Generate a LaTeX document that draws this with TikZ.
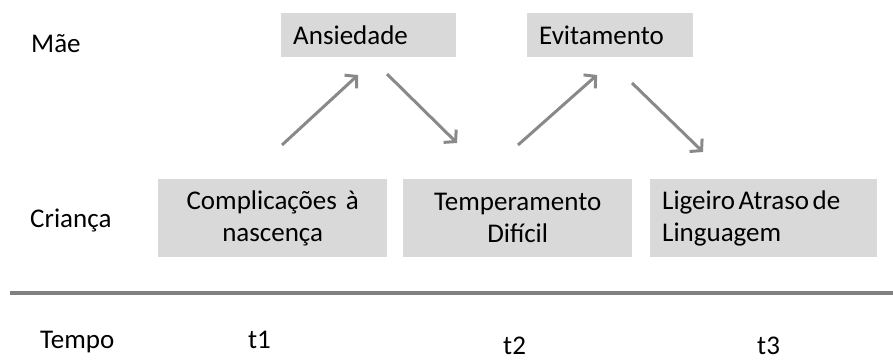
\documentclass[tikz,border=0pt]{standalone}
\usepackage{fontspec}
\setmainfont{Carlito}
\usetikzlibrary{arrows.meta}
\definecolor{caixacinza}{HTML}{D9D9D9}
\definecolor{setacinza}{HTML}{898989}

\begin{document}
\begin{tikzpicture}[x=1pt,y=-1pt,font=\fontsize{27}{32}\selectfont,
  caixa/.style = {fill=caixacinza, inner ysep=0pt, anchor=north west},
  rotulo/.style = {anchor=base west, inner sep=0pt},
  seta/.style = {draw=setacinza, line width=3pt, -{Straight Barb[length=8pt,width=18pt,line width=3pt]}},
  linha/.style = {draw=gray, line width=3.5pt}]
\useasboundingbox (0,0) rectangle (893,359);

% linhas da esquerda
\node[rotulo] (mae) at (31,52) {Mãe};
\node[rotulo] (crianca) at (30,227) {Criança};
\node[rotulo] (tempo) at (40,348) {Tempo};

% mae
\node[caixa, minimum width=175pt, minimum height=44pt, inner xsep=12pt, text width=151pt, align=left] (ans) at (281,13) {Ansiedade};
\node[caixa, minimum width=166pt, minimum height=44pt, inner xsep=12pt, text width=142pt, align=left] (evi) at (527,13) {Evitamento};

% crianca
\node[caixa, minimum width=229pt, minimum height=78pt, inner xsep=8pt, text width=213pt, align=center] (comp) at (158,179) {Complicações à\\nascença};
\node[caixa, minimum width=229pt, minimum height=78pt, inner xsep=8pt, text width=213pt, align=center] (temp) at (403,179) {Temperamento\\Difícil};
\node[caixa, minimum width=227pt, minimum height=78pt, inner xsep=12pt, text width=203pt, align=left] (lig) at (650,179) {\spaceskip=3.5pt\relax Ligeiro Atraso de\\Linguagem};

% setas
\coordinate (s1a) at (282,145);
\coordinate (s1b) at (358,75);
\coordinate (s2a) at (387,74);
\coordinate (s2b) at (457,143);
\coordinate (s3a) at (518,145);
\coordinate (s3b) at (597,75);
\coordinate (s4a) at (632,83);
\coordinate (s4b) at (703,152);
\draw[seta] (s1a) -- (s1b);
\draw[seta] (s2a) -- (s2b);
\draw[seta] (s3a) -- (s3b);
\draw[seta] (s4a) -- (s4b);

% tempo
\coordinate (la) at (10,293);
\coordinate (lb) at (893,293);
\draw[linha] (la) -- (lb);
\node[rotulo] (t1) at (248,348) {t1};
\node[rotulo] (t2) at (503,354) {t2};
\node[rotulo] (t3) at (757,354) {t3};
\end{tikzpicture}
\end{document}
